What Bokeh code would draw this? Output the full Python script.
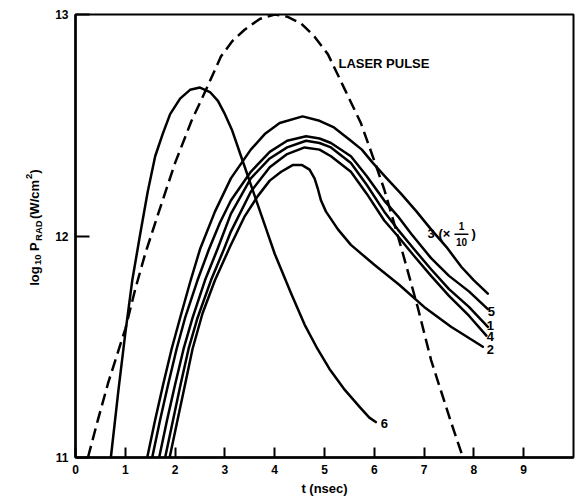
import math
from bokeh.plotting import figure
from bokeh.layouts import row
from bokeh.models import Range1d, FixedTicker
from bokeh.core.properties import value
from bokeh.embed import file_html
from bokeh.resources import INLINE

# ---------------- data ----------------
laser_t = [0.25, 0.45, 0.66, 0.83, 1.00, 1.20, 1.40, 1.66, 2.00, 2.33, 2.62, 2.92, 3.15, 3.39, 3.70,
           4.00, 4.25, 4.53, 4.80, 5.07, 5.39, 5.73, 6.00, 6.20, 6.55, 6.87, 7.14, 7.54, 7.78]
laser_p = [11.00, 11.17, 11.34, 11.46, 11.58, 11.76, 11.92, 12.10, 12.33, 12.52, 12.66, 12.81, 12.88, 12.93, 12.98,
           13.00, 12.99, 12.96, 12.90, 12.82, 12.67, 12.51, 12.34, 12.21, 11.94, 11.68, 11.44, 11.16, 11.00]

c6_t = [0.71, 0.86, 1.00, 1.14, 1.30, 1.45, 1.60, 1.75, 1.90, 2.10, 2.30, 2.50, 2.70, 2.86, 3.00,
        3.14, 3.34, 3.60, 3.80, 4.00, 4.33, 4.60, 4.86, 5.10, 5.39, 5.70, 5.90, 6.03]
c6_p = [11.00, 11.30, 11.56, 11.80, 12.01, 12.20, 12.36, 12.46, 12.55, 12.62, 12.66, 12.67, 12.65, 12.61, 12.55,
        12.48, 12.35, 12.18, 12.05, 11.92, 11.74, 11.60, 11.49, 11.40, 11.31, 11.23, 11.18, 11.16]

c3_t = [1.44, 1.60, 1.76, 1.93, 2.10, 2.30, 2.50, 2.80, 3.12, 3.52, 3.80, 4.10, 4.56, 4.90, 5.19,
        5.53, 5.75, 5.97, 6.25, 6.54, 6.85, 7.14, 7.45, 7.75, 8.00, 8.28]
c3_p = [11.00, 11.17, 11.33, 11.49, 11.63, 11.79, 11.94, 12.11, 12.26, 12.39, 12.46, 12.51, 12.54, 12.52, 12.49,
        12.43, 12.39, 12.33, 12.26, 12.19, 12.11, 12.03, 11.95, 11.86, 11.80, 11.74]

c5_t = [1.54, 1.70, 1.86, 2.03, 2.20, 2.45, 2.68, 2.90, 3.12, 3.52, 3.90, 4.25, 4.63, 4.90, 5.13,
        5.53, 5.85, 6.20, 6.47, 6.74, 7.14, 7.50, 7.90, 8.28]
c5_p = [11.00, 11.17, 11.33, 11.49, 11.63, 11.80, 11.94, 12.06, 12.16, 12.29, 12.38, 12.43, 12.45, 12.44, 12.42,
        12.36, 12.27, 12.16, 12.09, 12.01, 11.90, 11.82, 11.75, 11.67]

c1_t = [1.68, 1.84, 2.00, 2.17, 2.35, 2.60, 2.85, 3.12, 3.52, 3.90, 4.25, 4.63, 4.90, 5.13, 5.53,
        5.85, 6.20, 6.47, 6.80, 7.14, 7.50, 7.90, 8.28]
c1_p = [11.00, 11.17, 11.33, 11.49, 11.63, 11.80, 11.94, 12.10, 12.26, 12.35, 12.40, 12.43, 12.42, 12.40, 12.33,
        12.23, 12.11, 12.03, 11.94, 11.85, 11.76, 11.68, 11.59]

c4_t = [1.80, 1.96, 2.11, 2.27, 2.45, 2.72, 2.98, 3.12, 3.52, 3.90, 4.25, 4.60, 4.90, 5.13, 5.53,
        5.85, 6.20, 6.47, 6.80, 7.14, 7.50, 7.90, 8.25]
c4_p = [11.00, 11.17, 11.33, 11.49, 11.63, 11.80, 11.94, 12.02, 12.20, 12.31, 12.37, 12.40, 12.39, 12.36, 12.29,
        12.19, 12.07, 12.00, 11.91, 11.82, 11.73, 11.64, 11.55]

c2_t = [1.89, 2.05, 2.20, 2.35, 2.55, 2.80, 3.10, 3.40, 3.66, 3.90, 4.13, 4.36, 4.55, 4.70, 4.80,
        4.87, 4.93, 5.03, 5.27, 5.53, 6.00, 6.50, 7.00, 7.54, 8.18]
c2_p = [11.00, 11.17, 11.33, 11.49, 11.65, 11.80, 11.95, 12.09, 12.18, 12.25, 12.29, 12.32, 12.32, 12.30, 12.26,
        12.21, 12.16, 12.11, 12.03, 11.96, 11.87, 11.78, 11.68, 11.59, 11.50]

x_ticks = [0, 1, 2, 3, 4, 5, 6, 7, 8, 9]
y_ticks = [11, 12, 13]

curve_labels = ["5", "1", "4", "2", "6"]
curve_label_t = [8.35, 8.33, 8.33, 8.33, 6.20]
curve_label_p = [11.66, 11.595, 11.545, 11.486, 11.153]

# y-axis title pieces
ylabel_text = ["log", "10", "P", "RAD", "(W/cm", "2", ")"]
ylabel_role = ["main", "sub", "main", "sub", "main", "sup", "main"]
ylabel_align = ["right", "left", "right", "left", "right", "left", "left"]

FONT = "Liberation Sans"
W_LAB = 45
H = 498

# ---------------- narrow panel holding the rotated y-axis title ----------------
lab = figure(width=W_LAB, height=H, x_range=Range1d(0, W_LAB), y_range=Range1d(0, H),
             output_backend="svg", toolbar_location=None, x_axis_type=None, y_axis_type=None,
             min_border=0, min_border_left=0, min_border_right=0, min_border_top=0, min_border_bottom=0)
lab.outline_line_color = None
lab.xgrid.visible = False
lab.ygrid.visible = False
lab.background_fill_color = "white"
lab.border_fill_color = "white"

base_x = {"main": 34, "sub": 37.5, "sup": 28.5}
sizes = {"main": "13px", "sub": "9.5px", "sup": "9.5px"}
anchors = [215, 216.5, 242, 243.5, 312, 313, 319]   # position along the title (px from bottom)
for txt, role, s, al in zip(ylabel_text, ylabel_role, anchors, ylabel_align):
    lab.text([base_x[role]], [s], text=[txt], angle=math.pi / 2, text_font=value(FONT),
             text_font_style="bold", text_font_size=sizes[role], text_align=al,
             text_baseline="alphabetic", text_color="black")

# ---------------- main plot ----------------
p = figure(width=575 - W_LAB, height=H, x_range=Range1d(0, 10), y_range=Range1d(11, 13),
           output_backend="svg", toolbar_location=None,
           min_border_left=75 - W_LAB, min_border_right=2, min_border_top=14, min_border_bottom=40)
p.background_fill_color = "white"
p.border_fill_color = "white"
p.outline_line_color = "black"
p.outline_line_width = 2
p.xgrid.visible = False
p.ygrid.visible = False

for ax in (p.xaxis[0], p.yaxis[0]):
    ax.axis_line_width = 2.5
    ax.axis_line_color = "black"
    ax.major_tick_line_width = 2
    ax.major_tick_line_color = "black"
    ax.major_tick_out = 0
    ax.minor_tick_line_color = None
    ax.major_label_text_font = FONT
    ax.major_label_text_font_style = "bold"
    ax.major_label_text_font_size = "12px"
    ax.major_label_text_color = "black"

p.xaxis.ticker = FixedTicker(ticks=x_ticks)
p.xaxis.major_tick_in = 10
p.xaxis.major_label_standoff = 7
p.xaxis.axis_label = "t (nsec)"
p.xaxis.axis_label_text_font = FONT
p.xaxis.axis_label_text_font_style = "bold"
p.xaxis.axis_label_text_font_size = "13px"
p.xaxis.axis_label_text_color = "black"
p.xaxis.axis_label_standoff = 4

p.yaxis.ticker = FixedTicker(ticks=y_ticks)
p.yaxis.major_tick_in = 14
p.yaxis.major_label_standoff = 7

LW = 2.5
p.line(laser_t, laser_p, line_color="black", line_width=LW, line_dash="12 6")
for t, v in ((c6_t, c6_p), (c3_t, c3_p), (c5_t, c5_p), (c1_t, c1_p), (c4_t, c4_p), (c2_t, c2_p)):
    p.line(t, v, line_color="black", line_width=LW, line_join="round", line_cap="round")

# curve labels
p.text(curve_label_t, curve_label_p, text=curve_labels, text_font=value(FONT), text_font_style="bold",
       text_font_size="13px", text_align="center", text_baseline="middle", text_color="black")
p.text([5.28], [12.78], text=["LASER PULSE"], text_font=value(FONT), text_font_style="bold",
       text_font_size="13px", text_align="left", text_baseline="middle", text_color="black")
# "3 (x 1/10)"
p.text([7.07], [12.01], text=["3 (\u00d7"], text_font=value(FONT), text_font_style="bold",
       text_font_size="13px", text_align="left", text_baseline="middle", text_color="black")
p.text([7.75, 7.75], [12.043, 11.975], text=["1", "10"], text_font=value(FONT), text_font_style="bold",
       text_font_size="10px", text_align="center", text_baseline="middle", text_color="black")
p.segment([7.61], [12.008], [7.89], [12.008], line_color="black", line_width=1.3)
p.text([7.95], [12.01], text=[")"], text_font=value(FONT), text_font_style="bold",
       text_font_size="13px", text_align="left", text_baseline="middle", text_color="black")

layout = row(lab, p, spacing=0)
open("out.html", "w").write(file_html(layout, INLINE))
